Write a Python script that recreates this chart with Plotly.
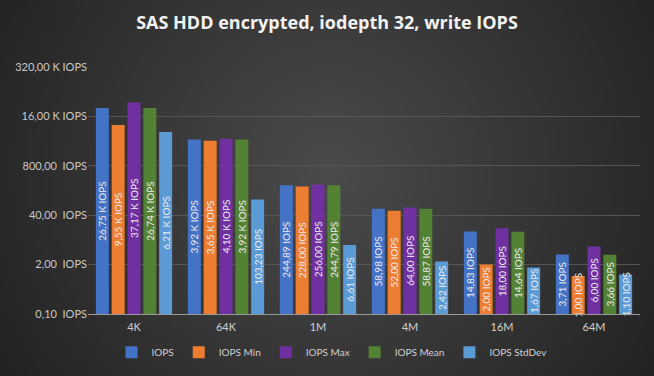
import base64
import math
import struct
import zlib

import plotly.graph_objects as go

categories = ["4K", "64K", "1M", "4M", "16M", "64M"]
series_names = ["IOPS", "IOPS Min", "IOPS Max", "IOPS Mean", "IOPS StdDev"]
iops = [26750, 3920, 244.89, 58.98, 14.83, 3.71]
iops_min = [9550, 3650, 228.00, 52.00, 2.00, 1.00]
iops_max = [37170, 4100, 256.00, 64.00, 18.00, 6.00]
iops_mean = [26740, 3920, 244.79, 58.87, 14.64, 3.66]
iops_std = [6210, 103.23, 6.61, 2.42, 1.67, 1.10]
tick_vals = [0.1, 2, 40, 800, 16000, 320000]
tick_text = ["0,10\u00a0\u00a0IOPS", "2,00\u00a0\u00a0IOPS", "40,00\u00a0\u00a0IOPS",
             "800,00\u00a0\u00a0IOPS", "16,00 K IOPS", "320,00 K IOPS"]

colors = ["#4472c4", "#ed7d31", "#7030a0", "#548235", "#5b9bd5"]
all_series = [iops, iops_min, iops_max, iops_mean, iops_std]


def fmt(v):
    if v >= 1000:
        return f"{v/1000:.2f}".replace(".", ",") + " K IOPS"
    return f"{v:.2f}".replace(".", ",") + " IOPS"


def radial_png(w, h, scale=4):
    """Dark radial gradient background as a PNG data URI."""
    sw, sh = w // scale, h // scale
    cx, cy = sw * 0.5, sh * 0.45
    rmax = math.hypot(sw * 0.5, sh * 0.55)
    c0, c1 = 0x4b, 0x22
    rows = []
    for j in range(sh):
        row = bytearray([0])
        for i in range(sw):
            t = min(1.0, math.hypot(i - cx, j - cy) / rmax)
            v = int(round(c0 - (c0 - c1) * t))
            row += bytes([v, v, v])
        rows.append(bytes(row))
    raw = b"".join(rows)

    def chunk(tag, data):
        c = struct.pack(">I", len(data)) + tag + data
        return c + struct.pack(">I", zlib.crc32(tag + data) & 0xffffffff)

    png = b"\x89PNG\r\n\x1a\n"
    png += chunk(b"IHDR", struct.pack(">IIBBBBB", sw, sh, 8, 2, 0, 0, 0))
    png += chunk(b"IDAT", zlib.compress(raw, 9))
    png += chunk(b"IEND", b"")
    return "data:image/png;base64," + base64.b64encode(png).decode()


fig = go.Figure()
for name, vals, col in zip(series_names, all_series, colors):
    fig.add_trace(go.Bar(
        x=categories, y=vals, name=name,
        marker=dict(color=col, line=dict(width=0)),
        text=[fmt(v) for v in vals],
        textposition="inside", insidetextanchor="middle",
        textangle=-90, constraintext="none", cliponaxis=False,
        textfont=dict(family="Lato, Noto Sans, sans-serif", size=10, color="#eeeeee"),
    ))

fig.update_layout(
    width=654, height=376,
    paper_bgcolor="#333333", plot_bgcolor="rgba(0,0,0,0)",
    margin=dict(l=88, r=14, t=67, b=62, autoexpand=False),
    barmode="group", bargap=0.14, bargroupgap=0.18,
    title=dict(text="<b>SAS HDD encrypted, iodepth 32, write IOPS</b>",
               x=0.5, xanchor="center", xref="container", y=1 - 23 / 376, yanchor="middle",
               yref="container",
               font=dict(family="Open Sans, sans-serif", size=18, color="#f2f2f2")),
    font=dict(family="Lato, Noto Sans, sans-serif", color="#d0d0d0"),
    showlegend=True,
    legend=dict(orientation="h", x=(332 - 88) / 552, xanchor="center", y=-0.155,
                yanchor="middle",
                font=dict(size=10, color="#d0d0d0"), itemwidth=30,
                bgcolor="rgba(0,0,0,0)", traceorder="normal"),
    images=[dict(source=radial_png(654, 376), xref="paper", yref="paper",
                 x=-88 / 552, y=1 + 67 / 247, sizex=654 / 552, sizey=376 / 247,
                 xanchor="left", yanchor="top", sizing="stretch", layer="below")],
)
fig.update_xaxes(showgrid=False, showline=True, linecolor="#9a9a9a", linewidth=1,
                 automargin=False, ticklabelstandoff=3,
                 tickfont=dict(size=11, color="#d0d0d0"), ticks="", ticklen=0)
fig.update_yaxes(type="log", range=[-1, math.log10(320000)], tickvals=tick_vals,
                 ticktext=tick_text, automargin=False,
                 showgrid=True, gridcolor="#555555", gridwidth=1, zeroline=False,
                 showline=False, tickfont=dict(size=11, color="#c8c8c8"), ticks="")

fig.write_html("out.html", config={"displayModeBar": False},
               post_script="document.body.style.margin='0';document.body.style.overflow='hidden';")
